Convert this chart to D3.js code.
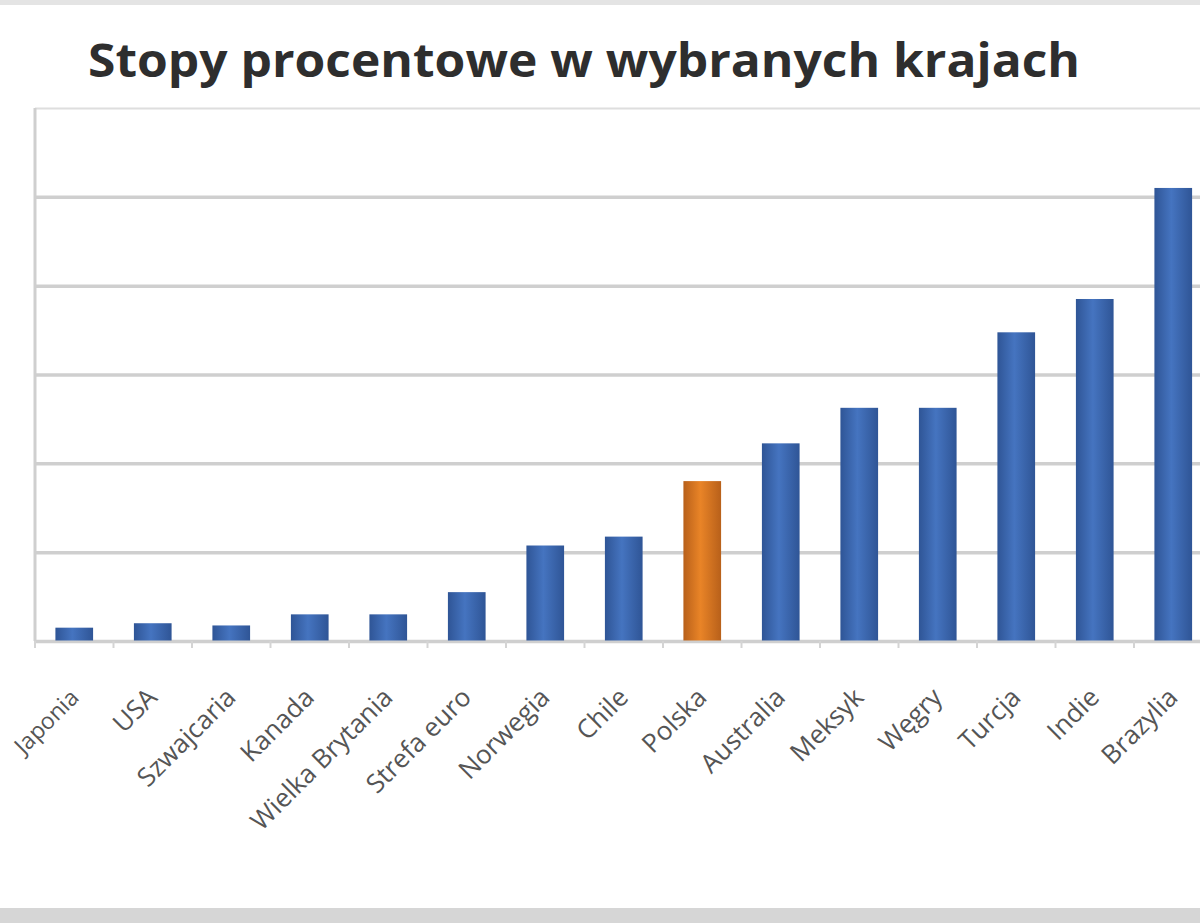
<!DOCTYPE html>
<html>
<head>
<meta charset="utf-8">
<script src="https://cdn.jsdelivr.net/npm/d3@7"></script>
<style>
  body { margin: 0; background: #fff; overflow: hidden; }
  svg { display: block; }
</style>
</head>
<body>
<svg id="chart" width="1200" height="923"></svg>
<script>
const title = "Stopy procentowe w wybranych krajach";
const countries = ["Japonia", "USA", "Szwajcaria", "Kanada", "Wielka Brytania", "Strefa euro",
  "Norwegia", "Chile", "Polska", "Australia", "Meksyk", "Węgry", "Turcja", "Indie", "Brazylia"];
const rates = [0.3, 0.4, 0.35, 0.6, 0.6, 1.1, 2.15, 2.35, 3.6, 4.45, 5.25, 5.25, 6.95, 7.7, 10.2];
const highlighted = ["Polska"];
const yTicks = [0, 2, 4, 6, 8, 10, 12];

const data = countries.map((c, i) => ({ country: c, rate: rates[i] }));

const svg = d3.select("#chart");

// frame bands like the screenshot edges
svg.append("rect").attr("x", 0).attr("y", 0).attr("width", 1200).attr("height", 5).attr("fill", "#e4e4e4");
svg.append("rect").attr("x", 0).attr("y", 908).attr("width", 1200).attr("height", 15).attr("fill", "#d6d6d6");

const defs = svg.append("defs");
const grad = (id, edge, mid) => {
  const g = defs.append("linearGradient").attr("id", id).attr("x1", 0).attr("x2", 1).attr("y1", 0).attr("y2", 0);
  g.append("stop").attr("offset", "0%").attr("stop-color", edge);
  g.append("stop").attr("offset", "45%").attr("stop-color", mid);
  g.append("stop").attr("offset", "100%").attr("stop-color", edge);
};
grad("blue", "#2f5596", "#4574c0");
grad("orange", "#b8601a", "#e98427");

const left = 35;
const xScale = d3.scaleBand().domain(countries).range([left, left + 15 * 78.5]).paddingInner(0.52).paddingOuter(0.26);
const yScale = d3.scaleLinear().domain([0, 12]).range([641, 108]);

// gridlines
svg.append("g")
  .attr("transform", `translate(${left},0)`)
  .call(d3.axisLeft(yScale).tickValues(yTicks).tickSize(-(1200 - left)).tickFormat(""))
  .call((g) => g.select(".domain").remove())
  .call((g) => g.selectAll(".tick line")
    .attr("stroke", (d) => (d === 12 ? "#dedede" : "#cfcfcf"))
    .attr("stroke-width", (d) => (d === 12 ? 2 : 3.5)));

// vertical axis line
svg.append("line")
  .attr("x1", left).attr("x2", left)
  .attr("y1", yScale(12)).attr("y2", yScale(0))
  .attr("stroke", "#cfcfcf").attr("stroke-width", 3);

svg.append("text")
  .attr("x", 88).attr("y", 77)
  .attr("textLength", 992).attr("lengthAdjust", "spacingAndGlyphs")
  .style("font-family", "'Open Sans', sans-serif")
  .style("font-weight", "bold")
  .style("font-size", "46px")
  .attr("fill", "#2e2e2e")
  .text(title);

svg.selectAll(".bar")
  .data(data)
  .enter()
  .append("rect")
  .attr("class", "bar")
  .attr("x", (d) => xScale(d.country))
  .attr("width", xScale.bandwidth())
  .attr("y", (d) => yScale(d.rate))
  .attr("height", (d) => yScale(0) - yScale(d.rate))
  .attr("fill", (d) => (highlighted.includes(d.country) ? "url(#orange)" : "url(#blue)"));

// x axis with small ticks between categories
const xAxis = svg.append("g")
  .attr("transform", `translate(0,${yScale(0)})`)
  .call(d3.axisBottom(xScale).tickSize(0).tickFormat(""));
xAxis.select(".domain").attr("stroke", "#cfcfcf").attr("stroke-width", 2);

svg.selectAll(".cat-tick")
  .data(countries)
  .enter()
  .append("line")
  .attr("class", "cat-tick")
  .attr("x1", (d) => xScale(d) - xScale.step() * xScale.paddingInner() / 2)
  .attr("x2", (d) => xScale(d) - xScale.step() * xScale.paddingInner() / 2)
  .attr("y1", yScale(0))
  .attr("y2", yScale(0) + 7)
  .attr("stroke", "#d4d4d4")
  .attr("stroke-width", 2);

const labels = svg.selectAll(".label")
  .data(data)
  .enter()
  .append("text")
  .attr("class", "label")
  .attr("transform", (d) => `translate(${xScale(d.country) + xScale.bandwidth() / 2 + 6},${yScale(0) + 58}) rotate(-45)`)
  .attr("text-anchor", "end")
  .style("font-family", "'Open Sans', sans-serif")
  .style("font-size", "26px")
  .attr("fill", "#555")
  .text((d) => d.country);

// shrink any label that would run past the left edge
labels.each(function () {
  let size = 26;
  while (this.getBoundingClientRect().left < 4 && size > 16) {
    size -= 1;
    d3.select(this).style("font-size", size + "px");
  }
});
</script>
</body>
</html>
